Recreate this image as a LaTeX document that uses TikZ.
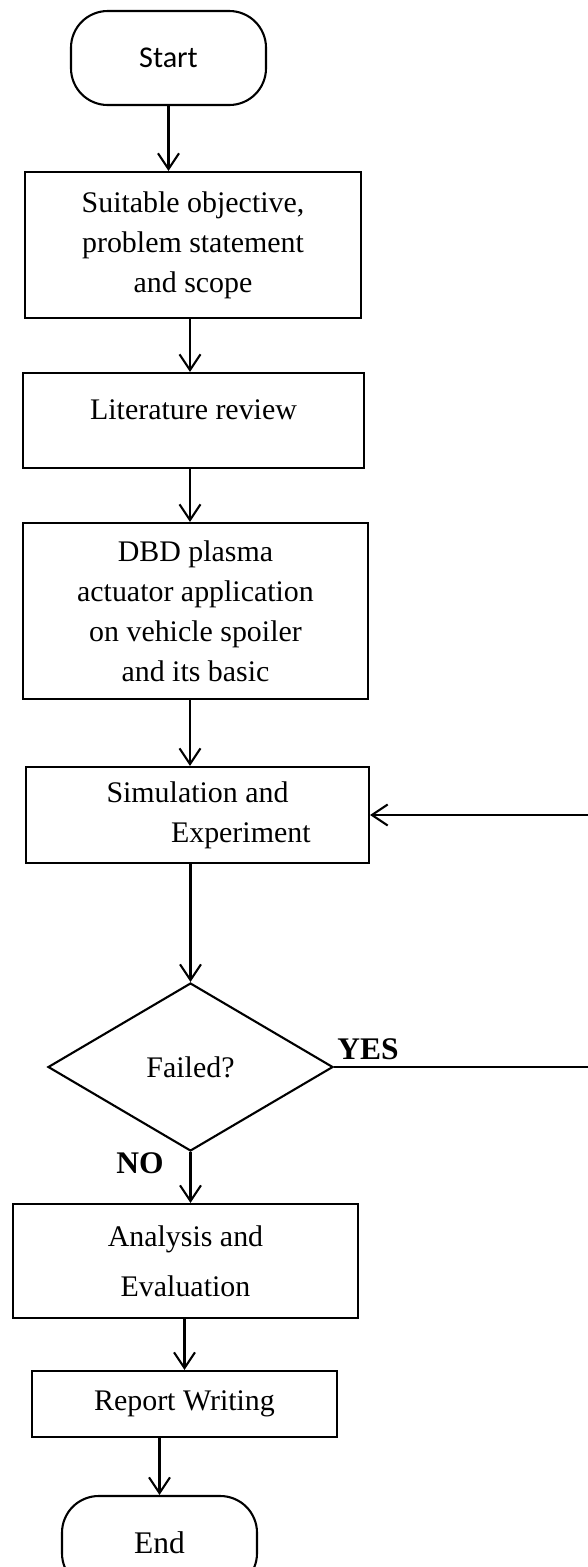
\documentclass[tikz,border=0pt]{standalone}
\usepackage{fontspec}
\setmainfont{Liberation Serif}
\newfontfamily\carlito{Carlito}
\usetikzlibrary{arrows.meta,shapes.geometric}
\newdimen\pxu \pxu=0.0134cm

\begin{document}
\begin{tikzpicture}[x=0.0134cm, y=-0.0134cm,
        font=\fontsize{11.4}{15.2}\selectfont,
        term/.style={draw, rounded corners=14pt, minimum width=195\pxu,
          minimum height=94\pxu},
        box/.style={draw, align=center, inner sep=0pt},
        decision/.style={draw, diamond, inner sep=0pt,
          minimum width=285\pxu, minimum height=168\pxu},
        answer/.style={font=\fontsize{12}{14}\selectfont\bfseries},
        line width=0.8pt, >={Straight Barb[length=6pt,width=8pt]}]
        \useasboundingbox (0,0) rectangle (587,1567);
        \coordinate (axis) at (190,0);
        \coordinate (loop) at (600,0);
        \node (start) at (168.5,58) [term, font=\carlito\fontsize{11.5}{13}\selectfont] {Start};
        \node (aim) at (193,245) [box, minimum width=336\pxu, minimum height=146\pxu]
          {Suitable objective,\\ problem statement\\ and scope};
        \node (review) at (193.5,420.5) [box, minimum width=341\pxu,
          minimum height=95\pxu, text depth=8.5pt] {Literature review};
        \node (plasma) at (195.5,611) [box, minimum width=345\pxu, minimum height=176\pxu]
          {DBD plasma\\ actuator application\\ on vehicle spoiler\\ and its basic};
        \node (sim) at (197.5,815) [box, minimum width=343\pxu, minimum height=96\pxu]
          {Simulation and\\ \hspace*{33pt}Experiment};
        \node (fail) at (190.5,1067) [decision] {Failed?};
        \node (eval) at (185.5,1261) [box, minimum width=345\pxu, minimum height=114\pxu,
          font=\fontsize{11.4}{19}\selectfont] {Analysis and\\ Evaluation};
        \node (report) at (184.5,1404) [box, minimum width=305\pxu, minimum height=66\pxu]
          {Report Writing};
        \node (end) at (159.5,1543) [term, font=\fontsize{12}{14}\selectfont] {End};
        \node (yes) at (368,1049) [answer] {YES};
        \node (no) at (140,1163) [answer] {NO};
        \draw[->] (start.south) -- (start.south |- aim.north);
        \draw[->] (aim.south -| axis) -- (review.north -| axis);
        \draw[->] (review.south -| axis) -- (plasma.north -| axis);
        \draw[->] (plasma.south -| axis) -- (sim.north -| axis);
        \draw[->] (sim.south -| fail.north) -- (fail.north);
        \draw[->] (fail.south) -- (eval.north -| fail.south);
        \draw[->] (eval.south -| report) -- (report.north);
        \draw[->] (report.south -| end) -- (end.north);
        \draw[line width=0.5pt] (fail.east) -- (fail.east -| loop);
        \draw[->] (fail.east -| loop) |- (sim.east);
    \end{tikzpicture}
\end{document}
